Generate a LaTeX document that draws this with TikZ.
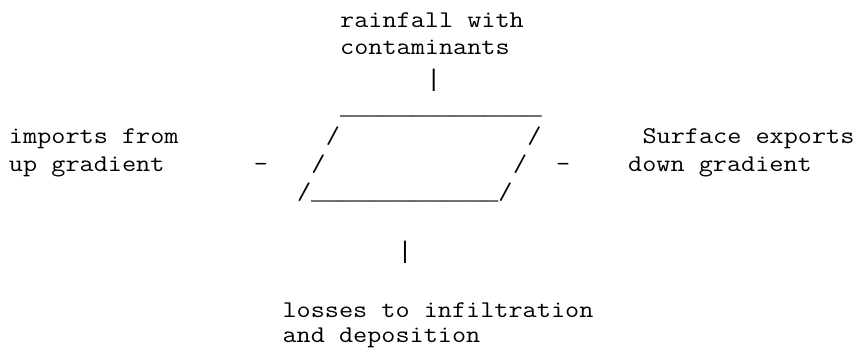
\documentclass[tikz,border=0pt]{standalone}
\usepackage{fontspec}
% typewriter face widened to a 0.6em advance
\newfontfamily\asciifont{lmmono12-regular.otf}[FakeStretch=1.1429]
% full-cell underscores and bars
\newfontfamily\rulefont{Liberation Mono}
\begin{document}
\begin{tikzpicture}[x=1pt,y=-1pt,
  every node/.style={inner sep=0pt,outer sep=0pt,anchor=base west,
    font=\asciifont\fontsize{24}{28}\selectfont},
  rulechars/.style={font=\rulefont\fontsize{24}{28}\selectfont},
]
% character grid: column width 14.4pt, first column at x=9
\def\cw{14.4}
\def\xo{9}
\newcommand\ulrun[1]{{\rulefont\foreach \k in {1,...,#1}{\_}}}
\useasboundingbox (0,0) rectangle (862,348);
% rainfall input
\node (rain)    at ({\xo+23*\cw},27.5) {rainfall with};
\node (contam)  at ({\xo+23*\cw},54.5) {contaminants};
\node[rulechars] (barin) at ({\xo+29*\cw},86.5) {|};
% the parallelogram drawn in characters
\node (topedge) at ({\xo+23*\cw},114)  {\ulrun{14}};
\node (ul)      at ({\xo+22*\cw},143.5){/};
\node (ur)      at ({\xo+36*\cw},143.5){/};
\node (ml)      at ({\xo+21*\cw},171.5){/};
\node (mr)      at ({\xo+35*\cw},171.5){/};
\node (botedge) at ({\xo+20*\cw},199.5){/\ulrun{13}/};
% side flows
\node (imp1)    at ({\xo+0*\cw},143.5) {imports from};
\node (imp2)    at ({\xo+0*\cw},171.5) {up gradient};
\node (dashin)  at ({\xo+17*\cw},171.5){-};
\node (dashout) at ({\xo+38*\cw},171.5){-};
\node (exp1)    at ({\xo+44*\cw},143.5){Surface exports};
\node (exp2)    at ({\xo+43*\cw},171.5){down gradient};
% losses below
\node[rulechars] (barout) at ({\xo+27*\cw},258.5) {|};
\node (loss1)   at ({\xo+19*\cw},317)  {losses to infiltration};
\node (loss2)   at ({\xo+19*\cw},342)  {and deposition};
\end{tikzpicture}
\end{document}
